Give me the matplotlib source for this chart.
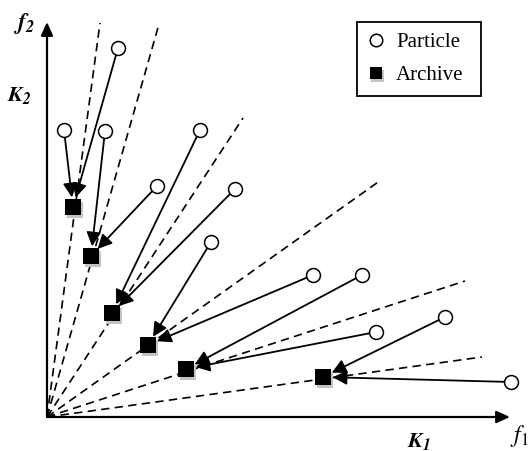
import matplotlib.pyplot as plt
from matplotlib.lines import Line2D
from matplotlib.patches import FancyArrowPatch
from matplotlib.path import Path
from matplotlib.legend_handler import HandlerTuple

# ── Data (pixel-like units measured from the origin of the f1/f2 axes) ──────
# reference directions drawn as dashed rays from the origin
ray_x = [53, 112, 196, 334, 418, 435]
ray_y = [394, 393, 299, 237, 136, 60]

# particles (open circles)
particle_x = [71, 17, 58, 110, 153, 188, 164, 266, 315, 329, 398, 464]
particle_y = [369, 287, 286, 231, 287, 228, 175, 142, 142, 85, 100, 35]

# archive members (filled squares)
archive_x = [26, 44, 65, 101, 139, 276]
archive_y = [210, 161, 104, 72, 48, 40]

# index of the archive each particle is guided towards
guide = [0, 0, 1, 1, 2, 2, 3, 3, 4, 4, 5, 5]

axis_len_x = 463
axis_len_y = 395

# ── Figure ───────────────────────────────────────────────────────────────────
fig = plt.figure(figsize=(5.30, 4.51), dpi=100)
ax = fig.add_axes([0, 0, 1, 1])
ax.set_xlim(-47, 483)
ax.set_ylim(-34, 417)
ax.axis("off")

plt.rcParams["mathtext.fontset"] = "stix"

# axes with arrow heads
for end in [(axis_len_x, 0), (0, axis_len_y)]:
    ax.add_patch(FancyArrowPatch((0, 0), end, arrowstyle="-|>,head_length=8,head_width=3.6",
                                 mutation_scale=1, lw=1.6, color="black",
                                 shrinkA=0, shrinkB=0, zorder=2))

# dashed reference lines
for rx, ry in zip(ray_x, ray_y):
    ax.plot([0, rx], [0, ry], color="black", lw=1.2, linestyle=(0, (5, 3.2)), zorder=1)

# particle -> archive arrows
for i, a in enumerate(guide):
    ax.add_patch(FancyArrowPatch((particle_x[i], particle_y[i]), (archive_x[a], archive_y[a]),
                                 arrowstyle="-|>,head_length=8.5,head_width=4.3",
                                 mutation_scale=1, lw=1.3, color="black",
                                 shrinkA=5, shrinkB=7, zorder=3))

# particles
ax.plot(particle_x, particle_y, "o", ms=10, mfc="white", mec="black", mew=1.1, zorder=5)

# archives with soft grey shadow
ax.plot([x + 2 for x in archive_x], [y - 3 for y in archive_y], "s", ms=12,
        color="#c4c4c4", mew=0, zorder=5)
ax.plot(archive_x, archive_y, "s", ms=12, color="black", mew=0, zorder=6)

# axis labels
ax.text(-34, 394, r"$\mathbfit{f}_{\mathbfit{2}}$", fontsize=17, ha="left", va="center")
ax.text(-40, 321, r"$\mathbfit{K}_{\mathbfit{2}}$", fontsize=16, ha="left", va="center")
ax.text(360, -25, r"$\mathbfit{K}_{\mathbfit{1}}$", fontsize=16, ha="left", va="center")
ax.text(463, -19, r"$\mathit{f}_{\mathit{1}}$", fontsize=17, ha="left", va="center")

# legend (square gets a small offset grey shadow, built as an off-centre marker path)
shadow_path = Path([(-0.4, -0.75), (0.6, -0.75), (0.6, 0.25), (-0.4, 0.25), (-0.4, -0.75)],
                   closed=True)
handles = [
    Line2D([], [], ls="", marker="o", ms=9, mfc="white", mec="black", mew=1.1),
    (Line2D([], [], ls="", marker=shadow_path, ms=13.5, color="#c4c4c4", mew=0),
     Line2D([], [], ls="", marker="s", ms=9, color="black", mew=0)),
]
leg = ax.legend(handles, ["Particle", "Archive"], loc="upper left",
                bbox_to_anchor=(357 / 530, 1 - 95 / 451, 124 / 530, 73 / 451),
                mode="expand", borderaxespad=0, fancybox=False,
                edgecolor="black", framealpha=1, handlelength=0.8, handletextpad=0.58,
                borderpad=0.5, labelspacing=0.66,
                handler_map={tuple: HandlerTuple(ndivide=1)},
                prop={"family": "Liberation Serif", "size": 15})
leg.get_frame().set_linewidth(1.3)

fig.savefig("out.png", dpi=100, facecolor="white")
